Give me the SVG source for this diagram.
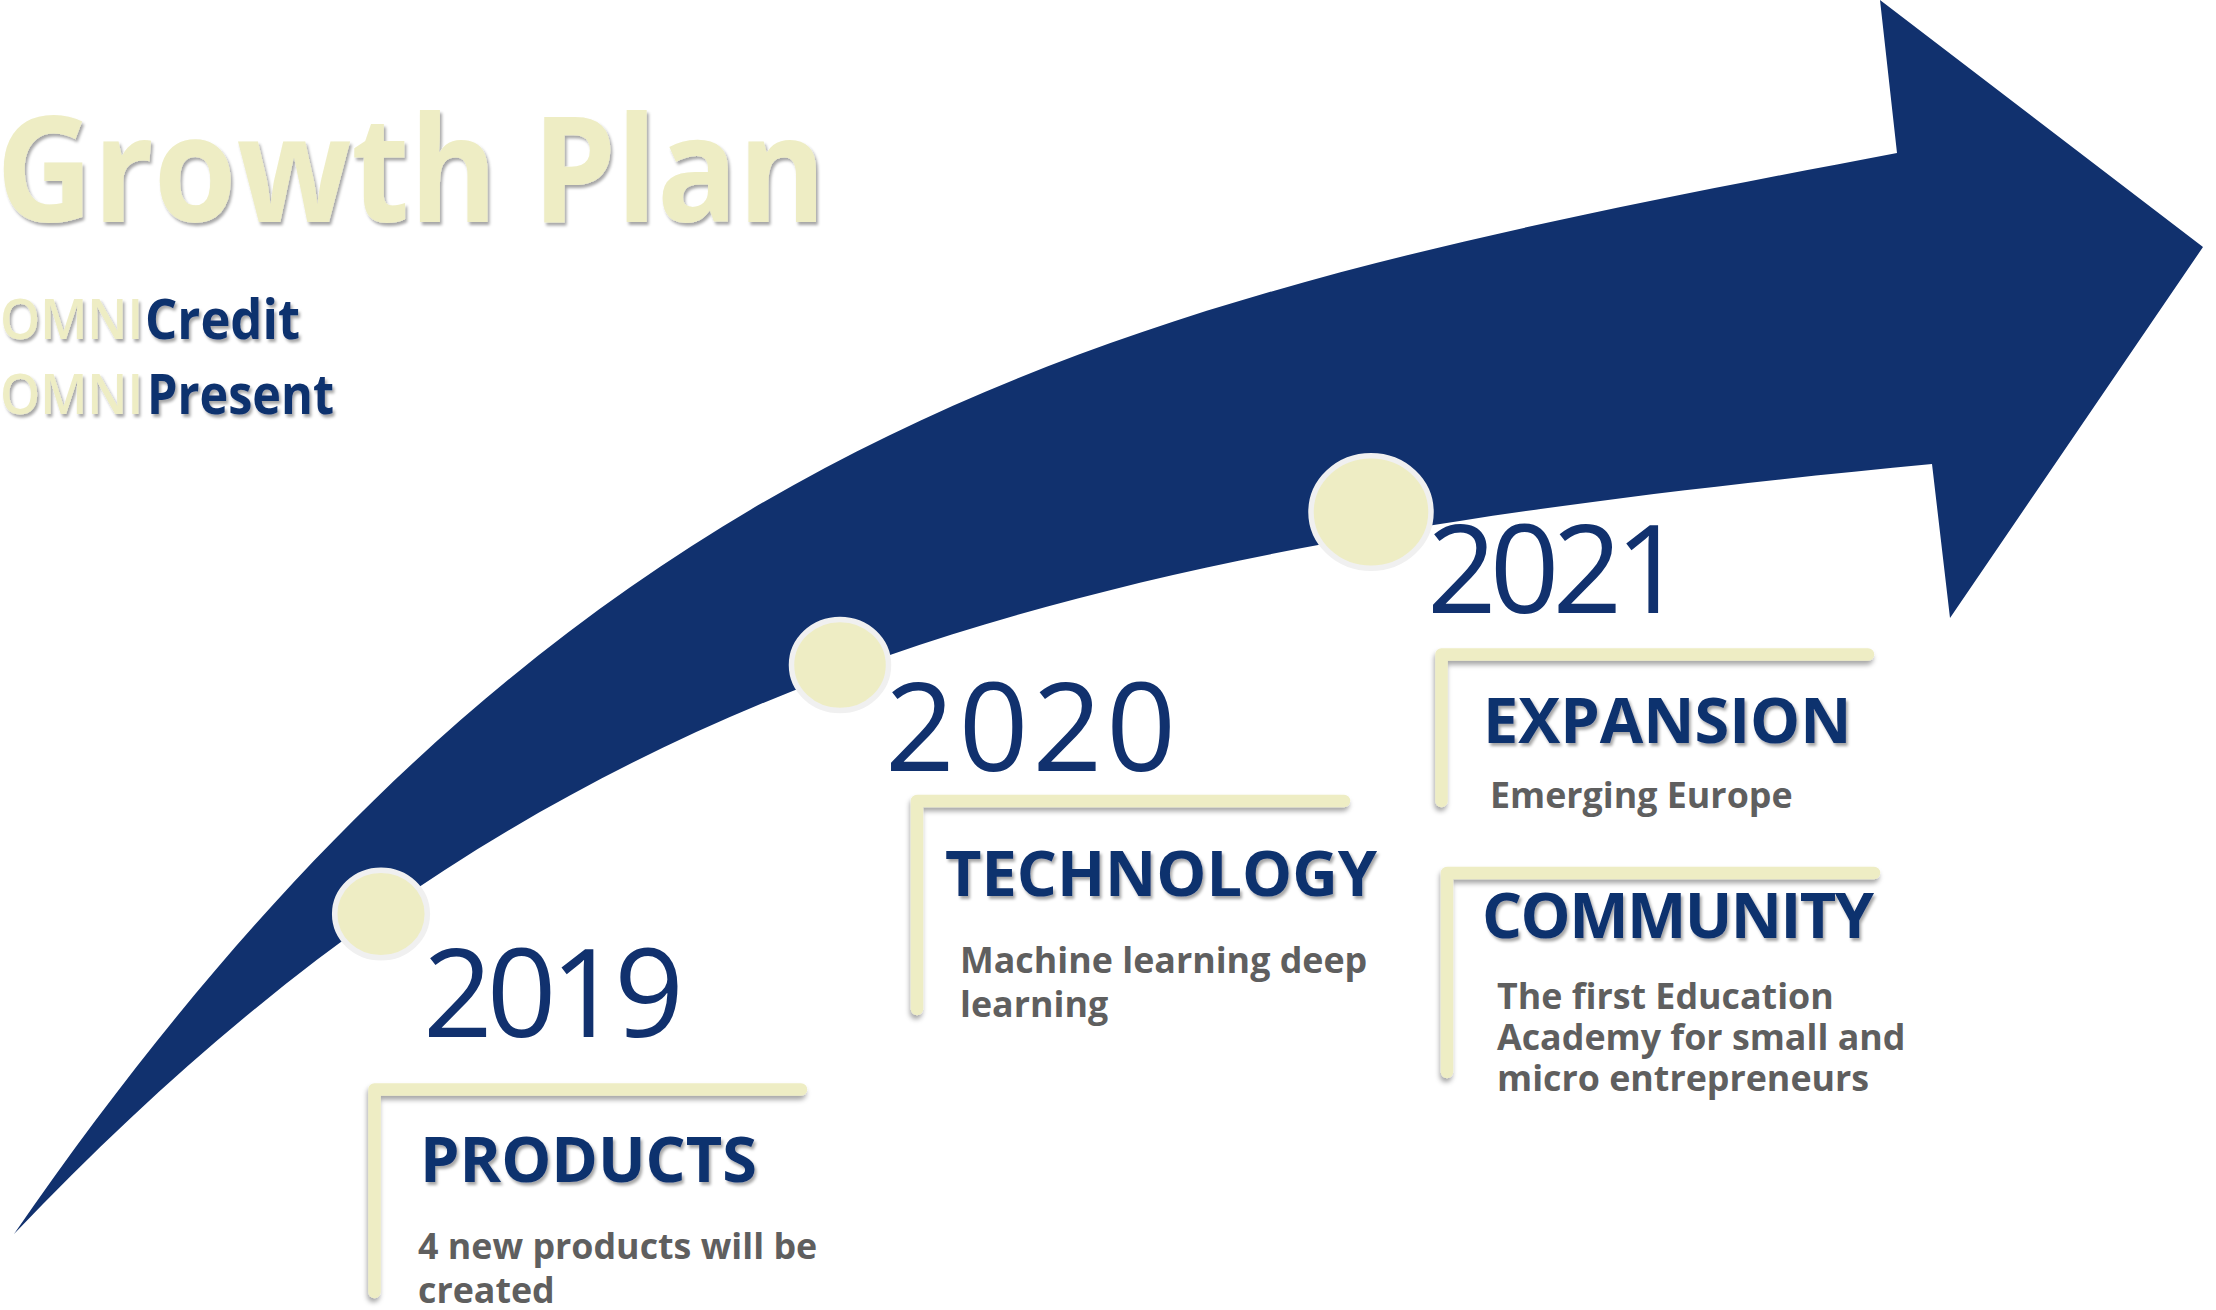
<svg xmlns="http://www.w3.org/2000/svg" width="2216" height="1310" viewBox="0 0 2216 1310">
  <defs>
    <filter id="tshadow" x="-10%" y="-20%" width="130%" height="150%">
      <feDropShadow dx="2" dy="3" stdDeviation="1.8" flood-color="#000" flood-opacity="0.35"/>
    </filter>
    <filter id="bshadow" x="-20%" y="-5%" width="140%" height="115%">
      <feDropShadow dx="-1" dy="4" stdDeviation="2.5" flood-color="#000" flood-opacity="0.35"/>
    </filter>
    <style>
      .navy { fill: #11316E; }
      .pale { fill: #EEEDC4; }
      .dot { fill: #EEEDC4; stroke: #F0F0F0; stroke-width: 5.5; }
      .bracket { fill: none; stroke: #EEEDC4; stroke-width: 12.5; stroke-linecap: round; stroke-linejoin: round; filter: url(#bshadow); }
      .year { font-family: "Open Sans", "Noto Sans", sans-serif; font-size: 122px; font-weight: 400; fill: #11316E; }
      .head { font-family: "Open Sans", "Noto Sans", sans-serif; font-size: 63px; font-weight: 700; fill: #11316E; filter: url(#tshadow); }
      .body { font-family: "Open Sans", "Noto Sans", sans-serif; font-size: 35.8px; font-weight: 700; fill: #5F5F5F; }
      .title { font-family: "Open Sans", "Noto Sans", sans-serif; font-size: 147px; font-weight: 700; fill: #EEEDC4; filter: url(#tshadow); }
      .brand { font-family: "Open Sans", "Noto Sans", sans-serif; font-size: 56px; filter: url(#tshadow); }
    </style>
  </defs>
  <rect width="2216" height="1310" fill="#FFFFFF"/>

  <g id="connectors">
    <path id="arrow" class="navy" d="M14,1234 C584,407.5 1137,297.4 1897,153 L1880,0 L2203,247 L1950,618 L1932,464 C1032,549.5 534,688 14,1234 Z"/>
  </g>

  <g id="title">
    <text class="title" x="-4" y="222" textLength="830" lengthAdjust="spacingAndGlyphs">Growth Plan</text>
    <text class="brand" x="0" y="339"><tspan class="pale" font-weight="600" textLength="143" lengthAdjust="spacingAndGlyphs">OMNI</tspan><tspan class="navy" font-weight="700" x="145" textLength="155" lengthAdjust="spacingAndGlyphs">Credit</tspan></text>
    <text class="brand" x="0" y="414"><tspan class="pale" font-weight="600" textLength="143" lengthAdjust="spacingAndGlyphs">OMNI</tspan><tspan class="navy" font-weight="700" x="147" textLength="187" lengthAdjust="spacingAndGlyphs">Present</tspan></text>
  </g>

  <g id="node-2019">
    <ellipse class="dot" cx="381" cy="914" rx="46.3" ry="43.8"/>
    <text class="year" x="423" y="1037" textLength="261">2019</text>
    <path class="bracket" d="M374.5,1292 V1089.5 H801"/>
    <text class="head" x="420" y="1182">PRODUCTS</text>
    <text class="body" x="418" y="1259">4 new products will be<tspan x="418" dy="44">created</tspan></text>
  </g>

  <g id="node-2020">
    <ellipse class="dot" cx="840" cy="665" rx="48.5" ry="45.5"/>
    <text class="year" x="885" y="771" textLength="291">2020</text>
    <path class="bracket" d="M917,1009 V801 H1344"/>
    <text class="head" x="945" y="896">TECHNOLOGY</text>
    <text class="body" x="960" y="973">Machine learning deep<tspan x="960" dy="44">learning</tspan></text>
  </g>

  <g id="node-2021">
    <ellipse class="dot" cx="1371" cy="512" rx="60" ry="56.3"/>
    <text class="year" x="1427" y="613" textLength="258">2021</text>
    <path class="bracket" d="M1441.5,801 V654.5 H1868"/>
    <text class="head" x="1483" y="743">EXPANSION</text>
    <text class="body" x="1490" y="808">Emerging Europe</text>
    <path class="bracket" d="M1447,1072 V873 H1874"/>
    <text class="head" x="1482" y="938" textLength="392">COMMUNITY</text>
    <text class="body" x="1497" y="1009">The first Education<tspan x="1497" dy="41">Academy for small and</tspan><tspan x="1497" dy="41">micro entrepreneurs</tspan></text>
  </g>
</svg>
